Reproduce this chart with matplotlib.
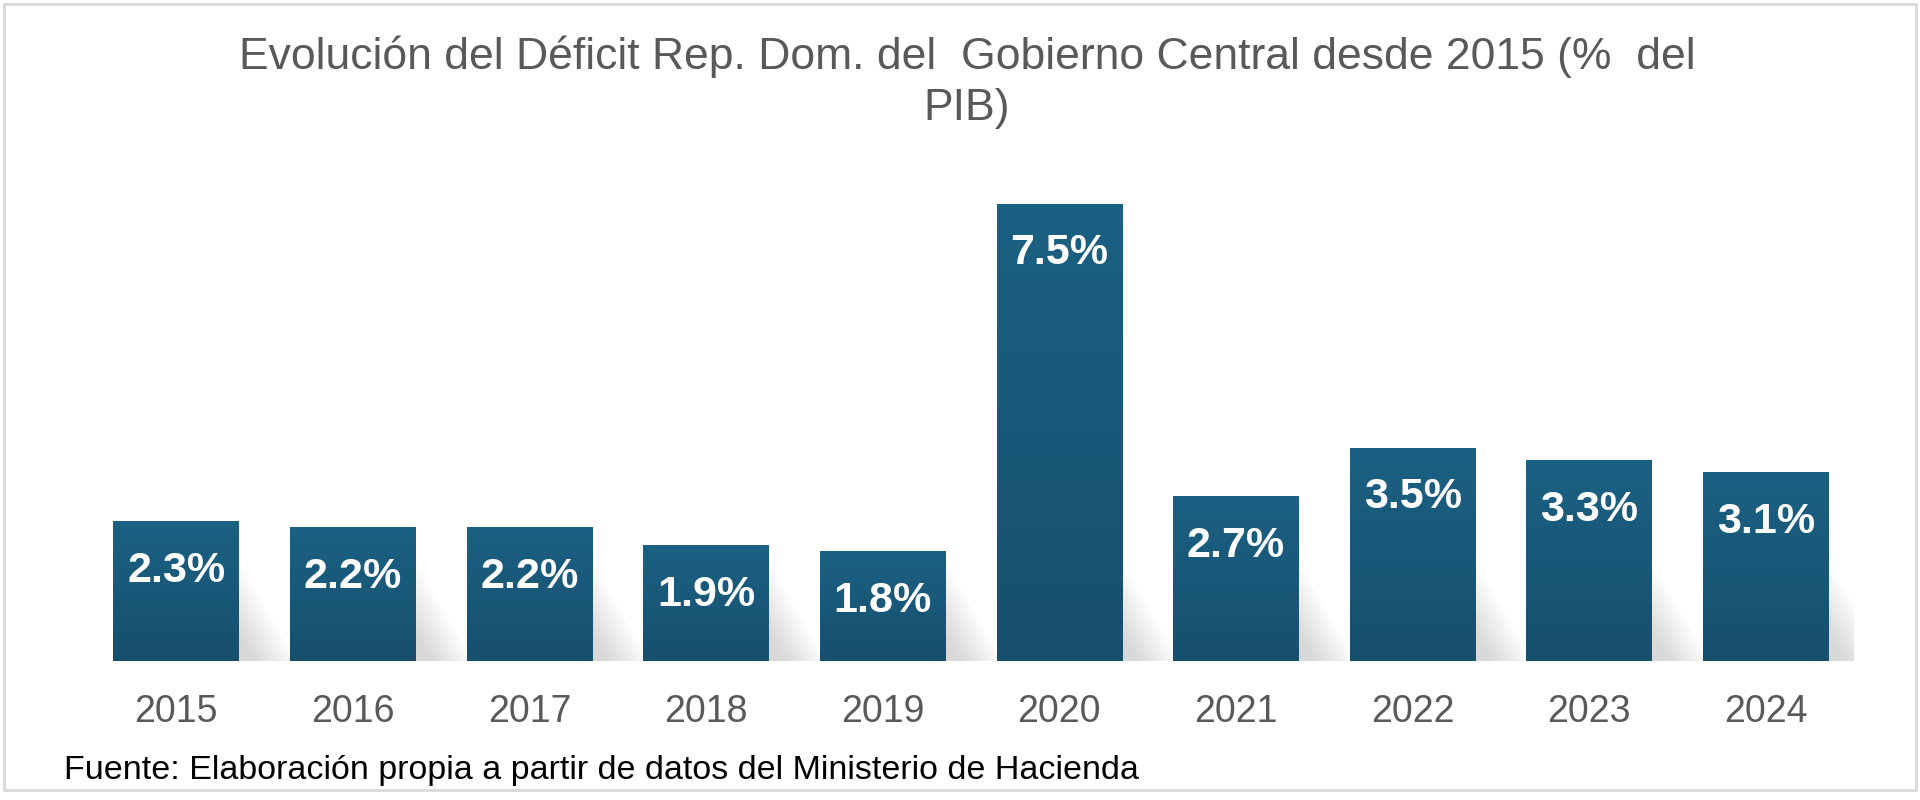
import matplotlib
matplotlib.use("Agg")
import matplotlib.pyplot as plt
import numpy as np
from matplotlib.patches import Rectangle, Polygon

years = ["2015", "2016", "2017", "2018", "2019", "2020", "2021", "2022", "2023", "2024"]
deficit = [2.3, 2.2, 2.2, 1.9, 1.8, 7.5, 2.7, 3.5, 3.3, 3.1]
labels = ["2.3%", "2.2%", "2.2%", "1.9%", "1.8%", "7.5%", "2.7%", "3.5%", "3.3%", "3.1%"]

title = "Evolución del Déficit Rep. Dom. del  Gobierno Central desde 2015 (%  del\nPIB)"
source = "Fuente: Elaboración propia a partir de datos del Ministerio de Hacienda"

plt.rcParams['font.family'] = ['Liberation Sans', 'DejaVu Sans']

fig = plt.figure(figsize=(19.2, 8), dpi=100)
ax = fig.add_axes([0.0457, 0.17375, 0.92, 0.61])

x = np.arange(len(years))
bars = ax.bar(x, deficit, width=0.71, color="#1a5a7b", zorder=3)

# vertical gradient on each bar, clipped to the bar itself
grad = np.linspace(0, 1, 256).reshape(-1, 1)
cmap = matplotlib.colors.LinearSegmentedColormap.from_list("g", ["#174f6d", "#1b6183"])
for b in bars:
    x0, y0 = b.get_x(), b.get_y()
    w, h = b.get_width(), b.get_height()
    im = ax.imshow(grad, extent=[x0, x0 + w, y0, y0 + h], origin="lower",
                   cmap=cmap, aspect="auto", zorder=3.5)
    im.set_clip_path(b)
    # soft cast shadow to the right of the bar
    sh = min(h, 1.6)
    for k in range(10):
        shade = Polygon([[x0 + w * 0.6, 0], [x0 + w + 0.32 - k * 0.025, 0],
                         [x0 + w, sh * (1 - k * 0.08)], [x0 + w * 0.6, sh * (1 - k * 0.08)]],
                        closed=True, facecolor="#7f7f7f", alpha=0.03, edgecolor="none", zorder=2)
        ax.add_patch(shade)

for b, lab in zip(bars, labels):
    ax.annotate(lab, (b.get_x() + b.get_width() / 2, b.get_height()),
                xytext=(0, -36), textcoords="offset points", ha="center", va="center",
                color="white", fontsize=31, fontweight="bold", zorder=5)

ax.set_xlim(-0.5, 9.5)
ax.set_ylim(0, 8)
ax.set_xticks(x)
ax.set_xticklabels(years, fontsize=27, color="#595959")
ax.tick_params(axis="x", length=0, pad=24)
ax.set_yticks([])
for s in ax.spines.values():
    s.set_visible(False)

fig.text(0.5036, 0.897, title, ha="center", va="center", fontsize=32,
         color="#595959", linespacing=1.3)
fig.text(0.0333, 0.037, source, ha="left", va="center", fontsize=24.5, color="black")

fig.patches.append(Rectangle((0.002, 0.012), 0.996, 0.983, transform=fig.transFigure,
                             fill=False, edgecolor="#d9d9d9", linewidth=2))

fig.savefig("out.png", dpi=100)
